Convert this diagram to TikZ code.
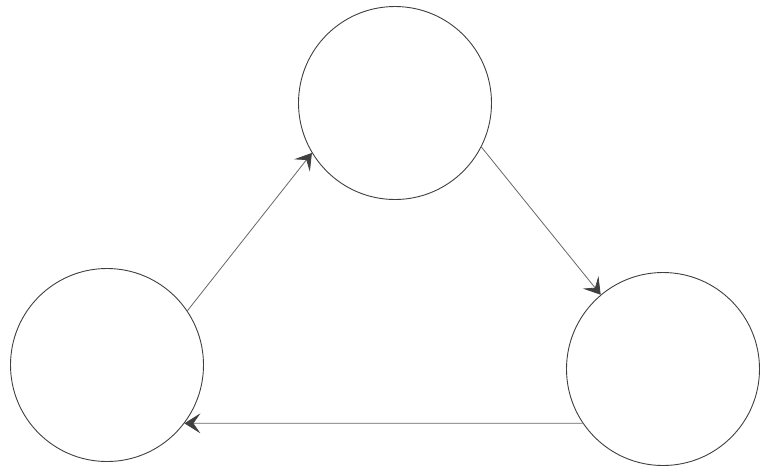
\documentclass[tikz,border=0pt]{standalone}
\usetikzlibrary{arrows.meta}
\begin{document}
\begin{tikzpicture}[x=1pt,y=-1pt,
  state/.style={circle,draw=black!75,line width=0.9pt,minimum size=193pt,inner sep=0pt},
  link/.style={draw=black!60,line width=0.8pt,-{Stealth[length=16pt,width=20pt,inset=7pt,color=black!75]}}]
\useasboundingbox (0,0) rectangle (761,472);
\node[state] (top) at (395,103) {};
\node[state] (left) at (107,365) {};
\node[state] (right) at (663,369) {};
\draw[link] (left.34) -- (top.211);
\draw[link] (top.333) -- (right.130);
\draw[link] (right.214) -- (left.323);
\end{tikzpicture}
\end{document}
